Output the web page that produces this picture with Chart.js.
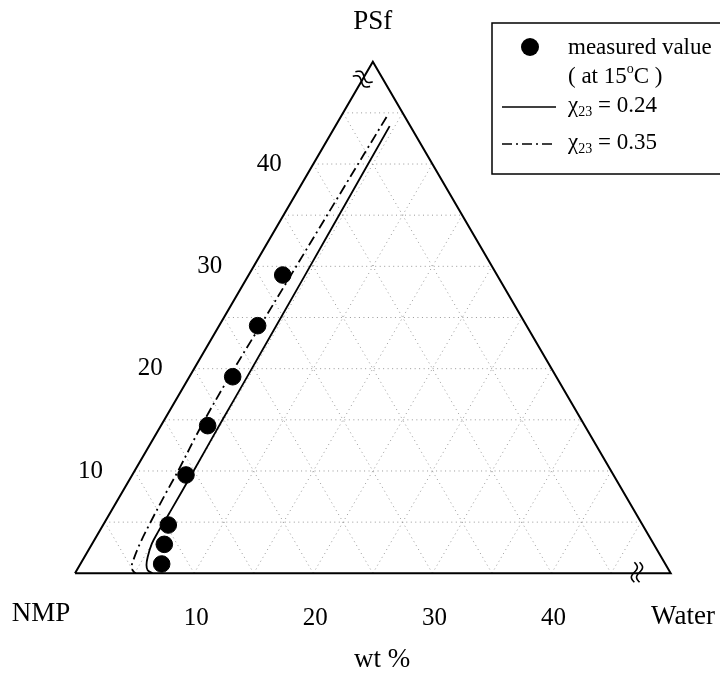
<!DOCTYPE html>
<html>
<head>
<meta charset="utf-8">
<script src="https://cdn.jsdelivr.net/npm/chart.js@4.4.0/dist/chart.umd.min.js"></script>
<style>
  html, body { margin: 0; padding: 0; background: #fff; }
  #wrap { width: 720px; height: 676px; }
</style>
</head>
<body>
<div id="wrap"><canvas id="ternary" width="720" height="676"></canvas></div>
<script>
// wt %: water and PSf, NMP is the remainder
var measuredWater = [2.86, 3.23, 3.63, 3.92, 4.51, 5.47, 6.08, 6.82];
var measuredPSf = [29.15, 24.2, 19.21, 14.43, 9.61, 4.72, 2.83, 0.91];

// binodal, chi23 = 0.24
var chi24Water = [4.56, 4.65, 4.74, 4.85, 4.88, 4.95, 4.98, 4.95, 5.0, 5.3, 5.6, 5.95, 6.5];
var chi24PSf = [43.7, 36, 29, 19, 15, 10, 6, 4, 2.9, 1.6, 0.8, 0.3, 0];

// binodal, chi23 = 0.35
var chi35Water = [3.85, 3.7, 3.55, 3.45, 3.35, 3.4, 3.65, 3.72, 3.85, 4.0, 4.25, 4.45, 4.85, 5.1];
var chi35PSf = [44.6, 37, 29, 24, 19, 14.4, 10, 7.5, 4.9, 2.9, 1.3, 0.6, 0.15, 0];

var bottomTicks = [10, 20, 30, 40];
var leftTicks = [10, 20, 30, 40];
var gridSteps = [5, 10, 15, 20, 25, 30, 35, 40, 45];

var serif = "'Liberation Serif', 'Times New Roman', serif";

// (water, PSf) -> skewed cartesian units used by the two linear scales
function toXY(w, p) {
  return { x: w + p / 2, y: p };
}

function pts(water, psf) {
  return water.map(function (w, i) {
    return toXY(w, psf[i]);
  });
}

function squiggle(ctx, cx, cy, ang, len, amp) {
  var dx = Math.cos(ang), dy = Math.sin(ang);
  ctx.beginPath();
  for (var i = 0; i <= 20; i++) {
    var t = -1 + i / 10;
    var u = t * len / 2;
    var v = amp * Math.sin(t * Math.PI);
    var x = cx + u * dx - v * dy;
    var y = cy + u * dy + v * dx;
    if (i == 0) ctx.moveTo(x, y);
    else ctx.lineTo(x, y);
  }
  ctx.stroke();
}

function drawRuns(ctx, x, y, runs) {
  runs.forEach(function (r) {
    ctx.font = r.size + "px " + serif;
    ctx.fillText(r.t, x, y + (r.dy || 0));
    x += ctx.measureText(r.t).width;
  });
}

var decor = {
  id: "decor",
  beforeDatasetsDraw: function (chart) {
    var ctx = chart.ctx;
    var sx = chart.scales.x;
    var sy = chart.scales.y;
    function px(w, p) {
      var q = toXY(w, p);
      return [sx.getPixelForValue(q.x), sy.getPixelForValue(q.y)];
    }
    function seg(a, b) {
      ctx.beginPath();
      ctx.moveTo(a[0], a[1]);
      ctx.lineTo(b[0], b[1]);
      ctx.stroke();
    }
    ctx.save();
    ctx.strokeStyle = "#999";
    ctx.lineWidth = 1;
    ctx.setLineDash([1, 3.5]);
    gridSteps.forEach(function (k) {
      seg(px(0, k), px(50 - k, k));
      seg(px(k, 0), px(k, 50 - k));
      seg(px(k, 0), px(0, k));
    });
    ctx.restore();
  },
  afterDatasetsDraw: function (chart) {
    var ctx = chart.ctx;
    var sx = chart.scales.x;
    var sy = chart.scales.y;
    function px(w, p) {
      var q = toXY(w, p);
      return [sx.getPixelForValue(q.x), sy.getPixelForValue(q.y)];
    }
    ctx.save();
    ctx.fillStyle = "#000";
    ctx.strokeStyle = "#000";
    ctx.textBaseline = "middle";
    ctx.textAlign = "center";

    // axis tick labels
    ctx.font = "25px " + serif;
    bottomTicks.forEach(function (t) {
      var a = px(t, 0);
      ctx.fillText(String(t), a[0] + 2, a[1] + 45);
    });
    leftTicks.forEach(function (t) {
      var a = px(0, t);
      ctx.fillText(String(t), a[0] - 44, a[1]);
    });

    // corner names
    ctx.font = "27px " + serif;
    var top = px(0, 50);
    ctx.fillText("PSf", top[0], 22);
    ctx.fillText("NMP", 41, 614);
    ctx.fillText("Water", 683, 617);
    ctx.fillText("wt %", 382, 660);

    // axis break marks
    ctx.lineWidth = 1.6;
    var brk = px(0, 48.3);
    var edgeAng = Math.atan2(sy.getPixelForValue(50) - sy.getPixelForValue(0),
      sx.getPixelForValue(25) - sx.getPixelForValue(0));
    var perp = edgeAng + Math.PI / 2;
    [-2.6, 2.6].forEach(function (o) {
      squiggle(ctx, brk[0] + o * Math.cos(edgeAng), brk[1] + o * Math.sin(edgeAng), perp, 20, 3);
    });
    var brk2 = px(47, 0);
    [-2.6, 2.6].forEach(function (o) {
      squiggle(ctx, brk2[0] + 2 + o, brk2[1] - 1, Math.PI / 2, 20, 3);
    });

    // legend
    ctx.lineWidth = 1.5;
    ctx.strokeRect(492, 23, 240, 151);
    ctx.beginPath();
    ctx.arc(530, 47, 9, 0, Math.PI * 2);
    ctx.fill();
    ctx.textAlign = "left";
    drawRuns(ctx, 568, 48, [{ t: "measured value", size: 23 }]);
    drawRuns(ctx, 568, 77, [
      { t: "( at 15", size: 23 },
      { t: "o", size: 14, dy: -8 },
      { t: "C )", size: 23 }
    ]);
    ctx.lineWidth = 1.3;
    ctx.beginPath();
    ctx.moveTo(502, 107);
    ctx.lineTo(556, 107);
    ctx.stroke();
    drawRuns(ctx, 568, 106, [
      { t: "\u03c7", size: 23 },
      { t: "23", size: 14, dy: 6 },
      { t: " = 0.24", size: 23 }
    ]);
    ctx.setLineDash([10, 4, 2, 4]);
    ctx.beginPath();
    ctx.moveTo(502, 144);
    ctx.lineTo(556, 144);
    ctx.stroke();
    ctx.setLineDash([]);
    drawRuns(ctx, 568, 143, [
      { t: "\u03c7", size: 23 },
      { t: "23", size: 14, dy: 6 },
      { t: " = 0.35", size: 23 }
    ]);
    ctx.restore();
  }
};

var frame = [toXY(0, 0), toXY(0, 50), toXY(50, 0), toXY(0, 0)];

var config = {
  type: "scatter",
  data: {
    datasets: [
      {
        label: "frame",
        data: frame,
        showLine: true,
        borderColor: "#000",
        borderWidth: 2,
        pointRadius: 0,
        tension: 0,
        clip: false
      },
      {
        label: "chi23 = 0.24",
        data: pts(chi24Water, chi24PSf),
        showLine: true,
        borderColor: "#000",
        borderWidth: 1.8,
        pointRadius: 0,
        tension: 0.35,
        clip: false
      },
      {
        label: "chi23 = 0.35",
        data: pts(chi35Water, chi35PSf),
        showLine: true,
        borderColor: "#000",
        borderWidth: 1.8,
        borderDash: [10, 4, 2, 4],
        pointRadius: 0,
        tension: 0.35,
        clip: false
      },
      {
        label: "measured value (at 15 C)",
        data: pts(measuredWater, measuredPSf),
        backgroundColor: "#000",
        borderColor: "#000",
        pointRadius: 8.3,
        pointHoverRadius: 8.3,
        clip: false
      }
    ]
  },
  options: {
    responsive: false,
    animation: false,
    devicePixelRatio: 1,
    layout: { padding: { left: 75, right: 49.3, top: 61.7, bottom: 102.7 } },
    scales: {
      x: { type: "linear", min: 0, max: 50, display: false },
      y: { type: "linear", min: 0, max: 50, display: false }
    },
    plugins: {
      legend: { display: false },
      tooltip: { enabled: false }
    }
  },
  plugins: [decor]
};

var ctx = document.getElementById("ternary").getContext("2d");
new Chart(ctx, config);
</script>
</body>
</html>
